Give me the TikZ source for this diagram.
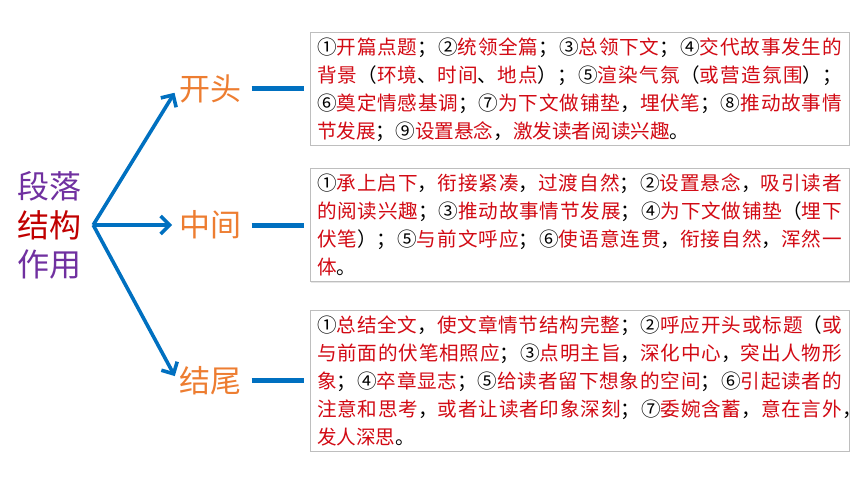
\documentclass[tikz,border=0pt]{standalone}
\usepackage{fontspec}
\usepackage{tikz}
\usetikzlibrary{arrows.meta,positioning,shadows}
\newfontfamily\cjk{Noto Sans CJK SC}
\XeTeXlinebreaklocale "zh"
\XeTeXlinebreakskip=0pt plus 4pt
\definecolor{arrblue}{RGB}{0,112,192}
\definecolor{lblorange}{RGB}{237,125,49}
\definecolor{purp}{RGB}{112,48,160}
\definecolor{darkred}{RGB}{192,0,0}
\definecolor{txtred}{RGB}{210,10,20}
\definecolor{boxgray}{RGB}{190,190,190}
\newcommand\blk[1]{\textcolor{black}{#1}}
\newcommand\lnstrut{\rule[-6pt]{0pt}{28pt}}

\begin{document}
\begin{tikzpicture}[x=1pt, y=-1pt]
    \tikzset{
        box/.style      =   { rectangle
                            , draw=boxgray
                            , line width=0.9pt
                            , fill=white
                            , drop shadow={shadow xshift=1.2pt, shadow yshift=-1.2pt, opacity=0.2}
                            , text width=525pt
                            , inner xsep=7pt
                            , inner ysep=0.5pt
                            , align=justify
                            , text=txtred
                            , font=\cjk\fontsize{19.6}{28}\selectfont
        }
        , lbl/.style    =   { text=lblorange
                            , inner sep=2pt
                            , font=\cjk\fontsize{31}{31}\selectfont
        }
        , arrow/.style  =   { draw=arrblue
                            , line width=3.6pt
                            , -{Straight Barb[length=9pt,width=18pt]}
                            , shorten >= 5pt
        }
        , bar/.style    =   { draw=arrblue
                            , line width=5pt
                            , shorten <= 8pt
                            , shorten >= 6pt
        }
    }
    \useasboundingbox (0,0) rectangle (860,484);

    \node(4)[box] at (579.5,88.5) {\lnstrut\blk{①}开篇点题\blk{；②}统领全篇\blk{；③}总领下文\blk{；④}交代故事发生的\linebreak
        背景\blk{（}环境\blk{、}时间\blk{、}地点\blk{）；⑤}渲染气氛\blk{（}或营造氛围\blk{）；}\linebreak
        \blk{⑥}奠定情感基调\blk{；⑦}为下文做铺垫\blk{，}埋伏笔\blk{；⑧}推动故事情\linebreak
        节发展\blk{；⑨}设置悬念\blk{，}激发读者阅读兴趣\blk{。}\lnstrut};
    \node(5)[box] at (579.5,225) {\lnstrut\blk{①}承上启下\blk{，}衔接紧凑\blk{，}过渡自然\blk{；②}设置悬念\blk{，}吸引读者\linebreak
        的阅读兴趣\blk{；③}推动故事情节发展\blk{；④}为下文做铺垫\blk{（}埋下\linebreak
        伏笔\blk{）；⑤}与前文呼应\blk{；⑥}使语意连贯\blk{，}衔接自然\blk{，}浑然一\linebreak
        体\blk{。}\lnstrut};
    \node(6)[box] at (579.5,380.5) {\lnstrut\blk{①}总结全文\blk{，}使文章情节结构完整\blk{；②}呼应开头或标题\blk{（}或\linebreak
        与前面的伏笔相照应\blk{；③}点明主旨\blk{，}深化中心\blk{，}突出人物形\linebreak
        象\blk{；④}卒章显志\blk{；⑤}给读者留下想象的空间\blk{；⑥}引起读者的\linebreak
        注意和思考\blk{，}或者让读者印象深刻\blk{；⑦}委婉含蓄\blk{，}意在言外\blk{\rlap{，}}\linebreak
        发人深思\blk{。}\lnstrut};

    \node(1)[lbl, left=66pt of 4] {开头};
    \node(2)[lbl, left=66pt of 5] {中间};
    \node(3)[lbl, left=66pt of 6] {结尾};

    \node(0)[align=center, inner sep=2pt, font=\cjk\fontsize{32}{39}\selectfont] at (49,225)
        {\textcolor{purp}{段落}\\\textcolor{darkred}{结构}\\\textcolor{purp}{作用}};
    \coordinate[right=10pt of 0] (o);

    \draw[arrow] (o) -- (1.west);
    \draw[arrow] (o) -- (2.west);
    \draw[arrow] (o) -- (3.west);
    \draw[bar]   (1.east) -- (4.west);
    \draw[bar]   (2.east) -- (5.west);
    \draw[bar]   (3.east) -- (6.west);
\end{tikzpicture}
\end{document}
